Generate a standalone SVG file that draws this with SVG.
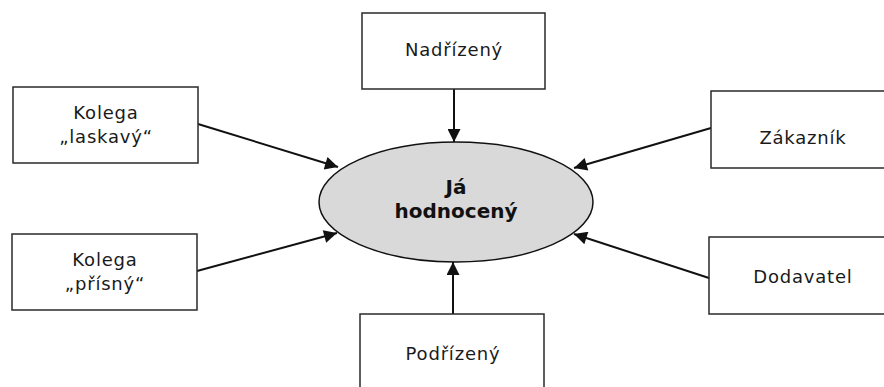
<svg xmlns="http://www.w3.org/2000/svg" width="884" height="387" viewBox="0 0 884 387">
<defs>
<style>
.box{fill:#fff;stroke:#2a2a2a;stroke-width:1.5}
.lbl{font-family:"DejaVu Sans",sans-serif;font-size:18px;letter-spacing:0.8px;fill:#1a1a1a;text-anchor:middle}
.ctr{font-family:"DejaVu Sans",sans-serif;font-weight:bold;font-size:20px;fill:#111;text-anchor:middle}
.con{stroke:#111;stroke-width:2;fill:none;marker-end:url(#ah)}
</style>
<marker id="ah" viewBox="0 0 10 10" refX="10" refY="5" markerWidth="8" markerHeight="6.5" markerUnits="strokeWidth" orient="auto">
<path d="M0,0 L10,5 L0,10 z" fill="#111"/>
</marker>
</defs>
<rect width="884" height="387" fill="#fff"/>
<g id="connectors">
<line class="con" x1="454" y1="89" x2="454" y2="142"/>
<line class="con" x1="453" y1="314" x2="453" y2="262"/>
<line class="con" x1="198" y1="124" x2="338" y2="167"/>
<line class="con" x1="197" y1="271" x2="337" y2="233"/>
<line class="con" x1="711" y1="128" x2="574" y2="168"/>
<line class="con" x1="709" y1="278" x2="574" y2="234"/>
</g>
<g id="center">
<ellipse cx="456" cy="202" rx="137" ry="60" fill="#d9d9d9" stroke="#111" stroke-width="1.5"/>
<text class="ctr" x="456" y="194">Já</text>
<text class="ctr" x="456" y="218">hodnocený</text>
</g>
<g id="nadrizeny">
<rect class="box" x="362" y="13" width="183" height="76"/>
<text class="lbl" x="454" y="56">Nadřízený</text>
</g>
<g id="podrizeny">
<rect class="box" x="360" y="314" width="184" height="90"/>
<text class="lbl" x="453" y="360">Podřízený</text>
</g>
<g id="kolega-laskavy">
<rect class="box" x="13" y="87" width="185" height="76"/>
<text class="lbl" x="106" y="119">Kolega</text>
<text class="lbl" x="106" y="143">„laskavý“</text>
</g>
<g id="kolega-prisny">
<rect class="box" x="12" y="234" width="185" height="76"/>
<text class="lbl" x="105" y="266">Kolega</text>
<text class="lbl" x="105" y="290">„přísný“</text>
</g>
<g id="zakaznik">
<rect class="box" x="711" y="91" width="190" height="77"/>
<text class="lbl" x="803" y="144">Zákazník</text>
</g>
<g id="dodavatel">
<rect class="box" x="709" y="237" width="192" height="77"/>
<text class="lbl" x="803" y="283">Dodavatel</text>
</g>
</svg>
